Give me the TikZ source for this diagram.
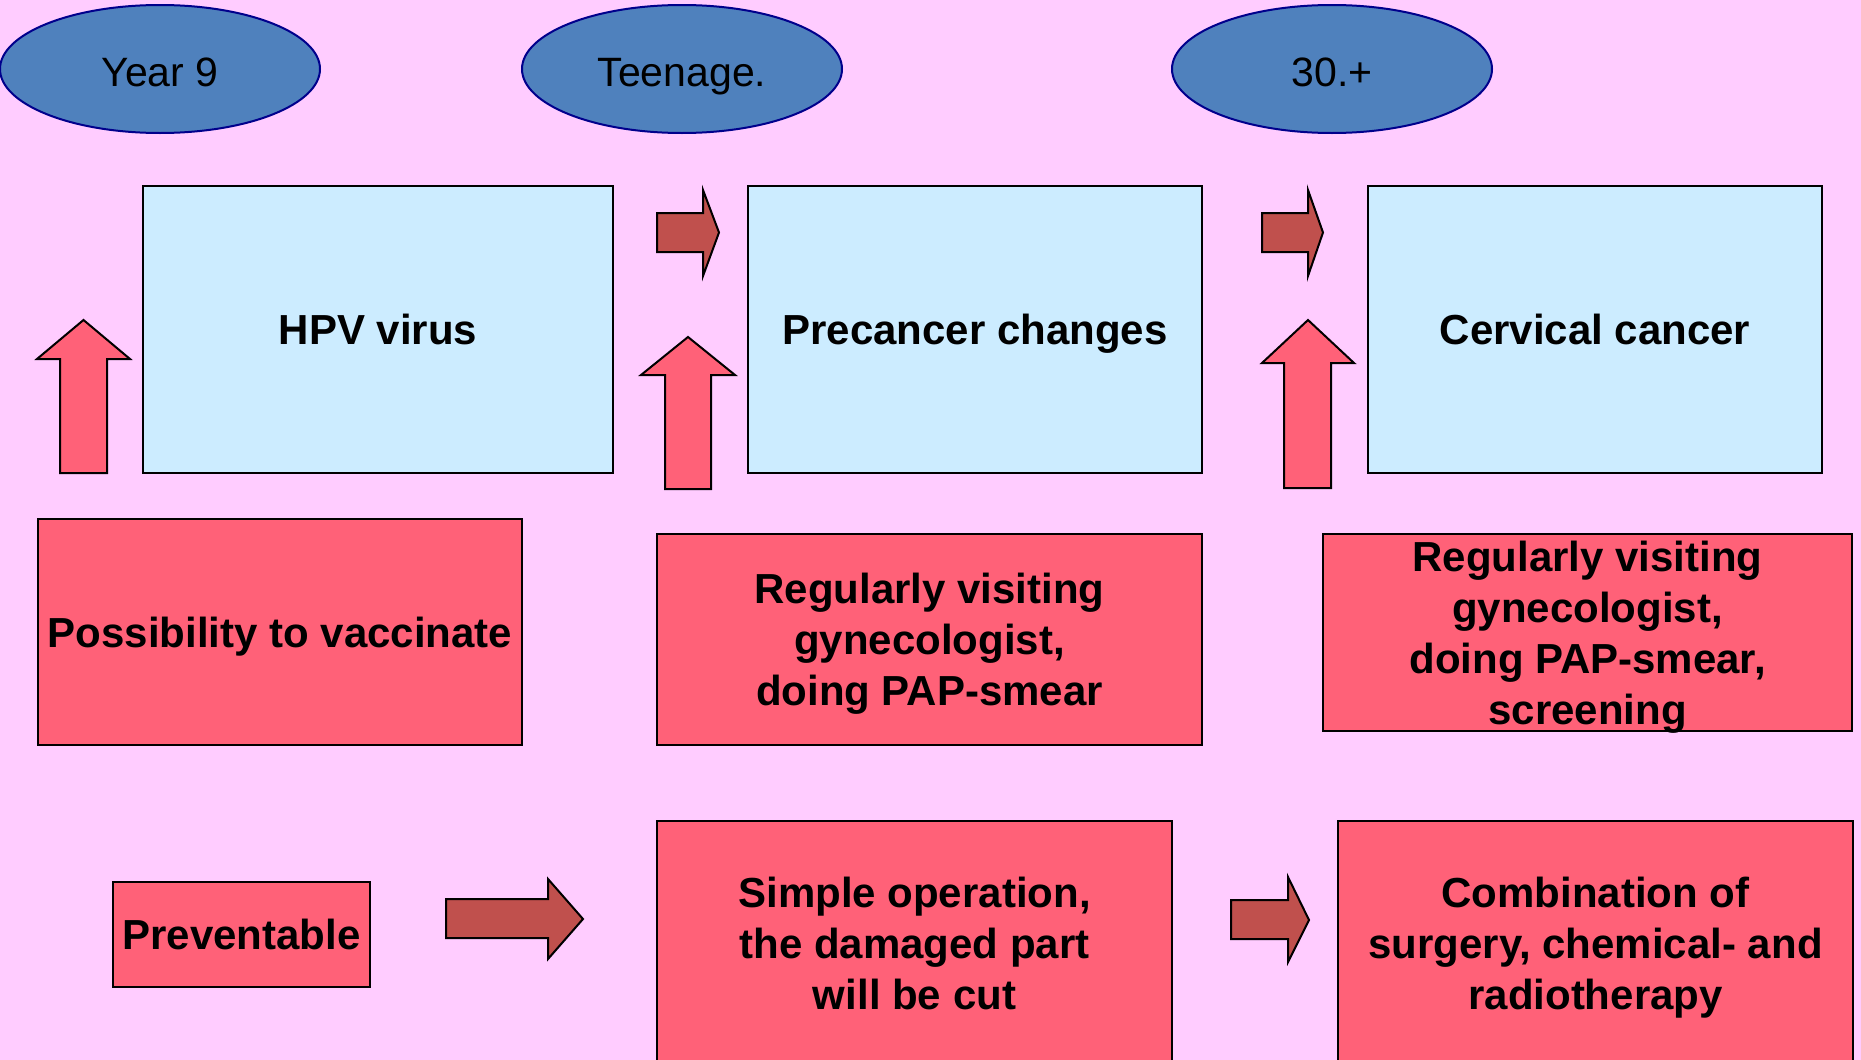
\documentclass[tikz,border=0pt]{standalone}
\usepackage{fontspec}
\setmainfont{Liberation Sans}
\usetikzlibrary{shapes.geometric}

\definecolor{bgpink}{RGB}{255,204,255}
\definecolor{agefill}{RGB}{79,129,189}
\definecolor{ageline}{RGB}{0,0,140}
\definecolor{stagefill}{RGB}{204,236,255}
\definecolor{actfill}{RGB}{255,97,120}
\definecolor{stepred}{RGB}{192,80,77}

\tikzset{
  age/.style={ellipse, draw=ageline, fill=agefill, line width=2pt,
    minimum width=320pt, minimum height=128pt, inner sep=0pt,
    text height=34pt, text depth=0pt,
    font=\fontsize{41}{50}\selectfont},
  stage/.style={rectangle, draw=black, fill=stagefill, line width=2.5pt,
    inner sep=0pt, text depth=0pt, align=center,
    font=\bfseries\fontsize{42}{51}\selectfont},
  action/.style={rectangle, draw=black, fill=actfill, line width=2.5pt,
    inner sep=0pt, text depth=0pt, align=center,
    font=\bfseries\fontsize{42}{51}\selectfont},
  uparrow/.style={draw=black, fill=actfill, line width=2pt, line join=miter},
  fwdarrow/.style={draw=black, fill=stepred, line width=2pt, line join=miter}
}

\begin{document}
\begin{tikzpicture}[x=1pt, y=-1pt]
    \useasboundingbox (0, 0) rectangle (1861, 1060);
    \clip (0, 0) rectangle (1861, 1060);
    \fill [bgpink] (0, 0) rectangle (1861, 1060);
    % age groups
    \node [age] (year) at (160, 69) {Year 9};
    \node [age] (teen) at (682, 69) {Teenage.};
    \node [age] (thirty) at (1332, 69) {30.+};
    % stages
    \node [stage, minimum width=470pt, minimum height=287pt] (hpv) at (378, 329.5) {HPV virus};
    \node [stage, minimum width=454pt, minimum height=287pt] (precancer) at (975, 329.5) {Precancer changes};
    \node [stage, minimum width=454pt, minimum height=287pt] (cancer) at (1595, 329.5) {Cervical cancer};
    % arrows between stages
    \draw [fwdarrow] (657, 213) -- (703, 213) -- (703, 190) -- (719, 232.5) -- (703, 276) -- (703, 252) -- (657, 252) -- cycle;
    \draw [fwdarrow] (1262, 213) -- (1308, 213) -- (1308, 190) -- (1323, 232.5) -- (1308, 276) -- (1308, 252) -- (1262, 252) -- cycle;
    % up arrows
    \draw [uparrow] (60, 473) -- (60, 359) -- (37, 359) -- (83.5, 320) -- (130, 359) -- (107, 359) -- (107, 473) -- cycle;
    \draw [uparrow] (665, 489) -- (665, 375) -- (641, 375) -- (688, 337) -- (735, 375) -- (711, 375) -- (711, 489) -- cycle;
    \draw [uparrow] (1284, 488) -- (1284, 363) -- (1262, 363) -- (1308, 320) -- (1354, 363) -- (1331, 363) -- (1331, 488) -- cycle;
    % prevention
    \node [action, minimum width=484pt, minimum height=226pt] (vaccine) at (280, 632) {Possibility to vaccinate};
    \node [action, minimum width=545pt, minimum height=211pt] (visit) at (929.5, 639.5) {Regularly visiting\\gynecologist,\\ doing PAP-smear};
    \node [action, minimum width=529pt, minimum height=197pt] (screen) at (1587.5, 632.5) {Regularly visiting\\gynecologist,\\ doing PAP-smear,\\screening};
    % treatment
    \node [action, minimum width=257pt, minimum height=105pt] (prevent) at (241.5, 934.5) {Preventable};
    \draw [fwdarrow] (446, 899) -- (548, 899) -- (548, 879) -- (583, 919) -- (548, 959) -- (548, 938) -- (446, 938) -- cycle;
    \node [action, minimum width=515pt, minimum height=244pt] (operation) at (914.5, 943) {Simple operation,\\the damaged part\\will be cut};
    \draw [fwdarrow] (1231, 900) -- (1288, 900) -- (1288, 877) -- (1309, 920) -- (1288, 962) -- (1288, 939) -- (1231, 939) -- cycle;
    \node [action, minimum width=515pt, minimum height=244pt] (therapy) at (1595.5, 943) {Combination of\\surgery, chemical- and\\radiotherapy};
\end{tikzpicture}
\end{document}
